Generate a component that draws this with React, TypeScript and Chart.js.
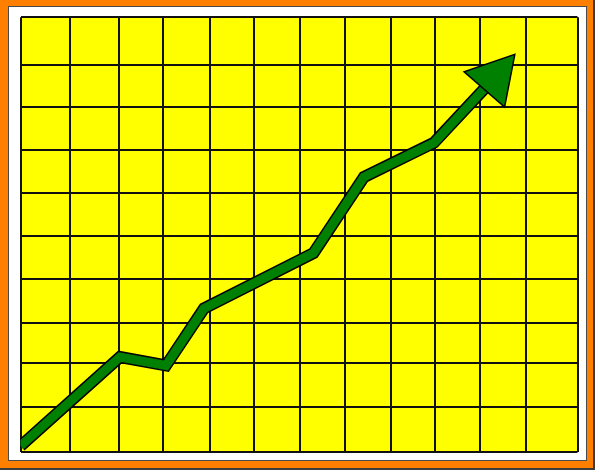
import { useEffect, useRef } from 'react';
import Chart from 'chart.js/auto';

// grid positions along each axis (chart units)
const xGrid = [0, 49, 98, 142, 189, 233.5, 279.5, 324.5, 370, 414.5, 459.5, 505.5, 557];
const yGrid = [0, 45.3, 88.7, 129.3, 173.3, 216, 259.3, 302, 345.3, 386.8, 434.7];

// the rising trend, last point is where the arrow head sits
const trendX = [0, 99.5, 145.5, 183.5, 293, 343.5, 413.5, 474];
const trendY = [6, 95, 86.5, 143.5, 199, 275, 309.3, 374.2];

const GREEN = '#008000';

const App = () => {
  const chartRef = useRef<HTMLCanvasElement>(null);
  const chartInstance = useRef<Chart | null>(null);

  useEffect(() => {
    document.body.style.margin = '0';
    if (!chartRef.current) return;
    if (chartInstance.current) chartInstance.current.destroy();

    const points = trendX.map((x, i) => ({ x, y: trendY[i] }));
    const last = points.length - 1;

    const yellowArea = {
      id: 'yellowArea',
      beforeDraw(chart: Chart) {
        const { ctx, chartArea } = chart;
        ctx.save();
        ctx.fillStyle = '#ffff00';
        ctx.fillRect(chartArea.left, chartArea.top, chartArea.width, chartArea.height);
        ctx.restore();
      },
    };

    chartInstance.current = new Chart(chartRef.current, {
      type: 'scatter',
      data: {
        datasets: [
          {
            data: points,
            showLine: true,
            order: 0,
            borderColor: GREEN,
            borderWidth: 9,
            borderJoinStyle: 'miter',
            clip: 0,
            pointRadius: points.map((_, i) => (i === last ? 31 : 0)),
            pointStyle: 'triangle',
            pointRotation: 41,
            pointBackgroundColor: GREEN,
            pointBorderColor: '#000',
            pointBorderWidth: 1.5,
          },
          {
            data: points,
            showLine: true,
            order: 1,
            borderColor: '#000',
            borderWidth: 12,
            borderJoinStyle: 'miter',
            clip: 0,
            pointRadius: 0,
          },
        ],
      },
      options: {
        responsive: false,
        animation: false,
        layout: {
          autoPadding: false,
          padding: { left: 20.5, top: 17.3, right: 22.5, bottom: 23 },
        },
        scales: {
          x: {
            type: 'linear',
            min: 0,
            max: 557,
            afterBuildTicks: (axis) => {
              axis.ticks = xGrid.map((value) => ({ value }));
            },
            ticks: { display: false },
            grid: { color: '#111', lineWidth: 2, drawTicks: false },
            border: { display: false },
          },
          y: {
            type: 'linear',
            min: 0,
            max: 434.7,
            afterBuildTicks: (axis) => {
              axis.ticks = yGrid.map((value) => ({ value }));
            },
            ticks: { display: false },
            grid: { color: '#111', lineWidth: 2, drawTicks: false },
            border: { display: false },
          },
        },
        plugins: {
          legend: { display: false },
          tooltip: { enabled: false },
        },
      },
      plugins: [yellowArea],
    });

    return () => {
      if (chartInstance.current) {
        chartInstance.current.destroy();
        chartInstance.current = null;
      }
    };
  }, []);

  return (
    <div style={{ position: 'relative', width: 600, height: 475, background: '#fff' }}>
      <div
        style={{
          position: 'absolute',
          left: 0,
          top: 0,
          width: 593,
          height: 468,
          background: '#ff8000',
          borderRight: '2px solid #3c3c3c',
          borderBottom: '2px solid #3c3c3c',
        }}
      />
      <div
        style={{
          position: 'absolute',
          left: 8,
          top: 6,
          width: 577,
          height: 453,
          background: '#fff',
          border: '1.5px solid #4a4a4a',
        }}
      />
      <canvas
        ref={chartRef}
        width={600}
        height={475}
        style={{ position: 'absolute', left: 0, top: 0 }}
      />
    </div>
  );
};

export default App;
